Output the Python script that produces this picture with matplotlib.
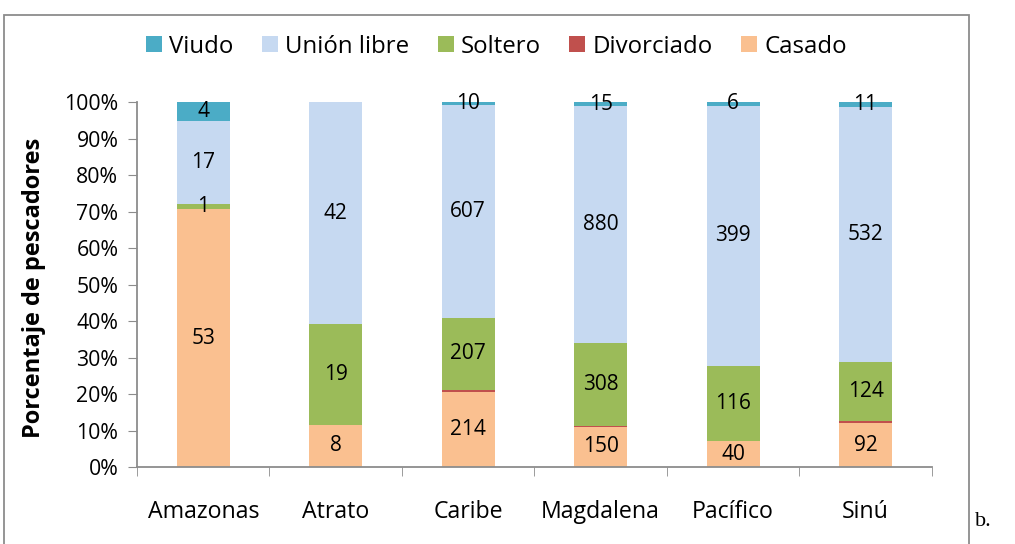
import matplotlib.pyplot as plt
import matplotlib.patches as mpatches
import numpy as np

# --------------------------
# Datos
# --------------------------
regiones = ["Amazonas", "Atrato", "Caribe", "Magdalena", "Pacífico", "Sinú"]
casado = [53, 8, 214, 150, 40, 92]
divorciado = [0, 0, 6, 3, 0, 4]
soltero = [1, 19, 207, 308, 116, 124]
union_libre = [17, 42, 607, 880, 399, 532]
viudo = [4, 0, 10, 15, 6, 11]

series = [
    ("Casado", casado, "#FAC090", True),
    ("Divorciado", divorciado, "#C0504D", False),
    ("Soltero", soltero, "#9BBB59", True),
    ("Unión libre", union_libre, "#C6D9F1", True),
    ("Viudo", viudo, "#4BACC6", True),
]

plt.rcParams["font.family"] = ["Open Sans", "DejaVu Sans"]

# --------------------------
# Porcentajes
# --------------------------
totales = np.sum([np.array(s[1]) for s in series], axis=0)

fig = plt.figure(figsize=(10.15, 5.44), dpi=100)
ax = fig.add_axes([0.135, 0.1415, 0.783, 0.671])

x = np.arange(len(regiones))
base = np.zeros(len(regiones))
handles = {}
for nombre, vals, color, etiqueta in series:
    vals = np.array(vals, dtype=float)
    pct = vals / totales * 100
    b = ax.bar(x, pct, bottom=base, width=0.4, color=color, label=nombre,
               edgecolor="none")
    handles[nombre] = b
    if etiqueta:
        for xi, p, v, b0 in zip(x, pct, vals, base):
            if v > 0:
                ax.text(xi, b0 + p / 2, f"{int(v)}", ha="center", va="center",
                        fontsize=15, color="black")
    base += pct

ax.set_xlim(-0.5, len(regiones) - 0.5)
ax.set_ylim(0, 100)
ax.set_yticks(np.arange(0, 101, 10))
ax.set_yticklabels([f"{v}%" for v in range(0, 101, 10)], fontsize=15.3)
ax.set_xticks(x)
ax.set_xticklabels(regiones, fontsize=16.7)
ax.set_xticks(np.arange(-0.5, len(regiones), 1), minor=True)
ax.tick_params(axis="x", which="major", length=0, pad=24)
ax.tick_params(axis="x", which="minor", length=6.5, color="#8c8c8c", direction="out")
ax.tick_params(axis="y", length=6.5, color="#8c8c8c", direction="out", pad=7)
for s in ["top", "right"]:
    ax.spines[s].set_visible(False)
for s in ["left", "bottom"]:
    ax.spines[s].set_color("#8c8c8c")
    ax.spines[s].set_linewidth(1.3)

ax.set_ylabel("Porcentaje de pescadores", fontsize=17, fontweight="bold")
ax.yaxis.set_label_coords(-0.114, 0.49)

orden = ["Viudo", "Unión libre", "Soltero", "Divorciado", "Casado"]
fig.legend([handles[n] for n in orden], orden, loc="center",
           bbox_to_anchor=(0.489, 0.914), ncol=5, frameon=False, fontsize=17.3,
           handlelength=0.66, handleheight=0.66, handletextpad=0.29,
           columnspacing=1.2)

# Marco exterior
marco = mpatches.Rectangle((4 / 1015, -0.05), 965 / 1015, 1.05 - 15 / 544,
                           transform=fig.transFigure, fill=False,
                           edgecolor="#8c8c8c", linewidth=1.3, clip_on=False)
fig.patches.append(marco)

fig.text(975 / 1015, 1 - 522 / 544, "b.", fontsize=16, family="Liberation Serif",
         va="center", ha="left")

fig.savefig("out.png", dpi=100)
